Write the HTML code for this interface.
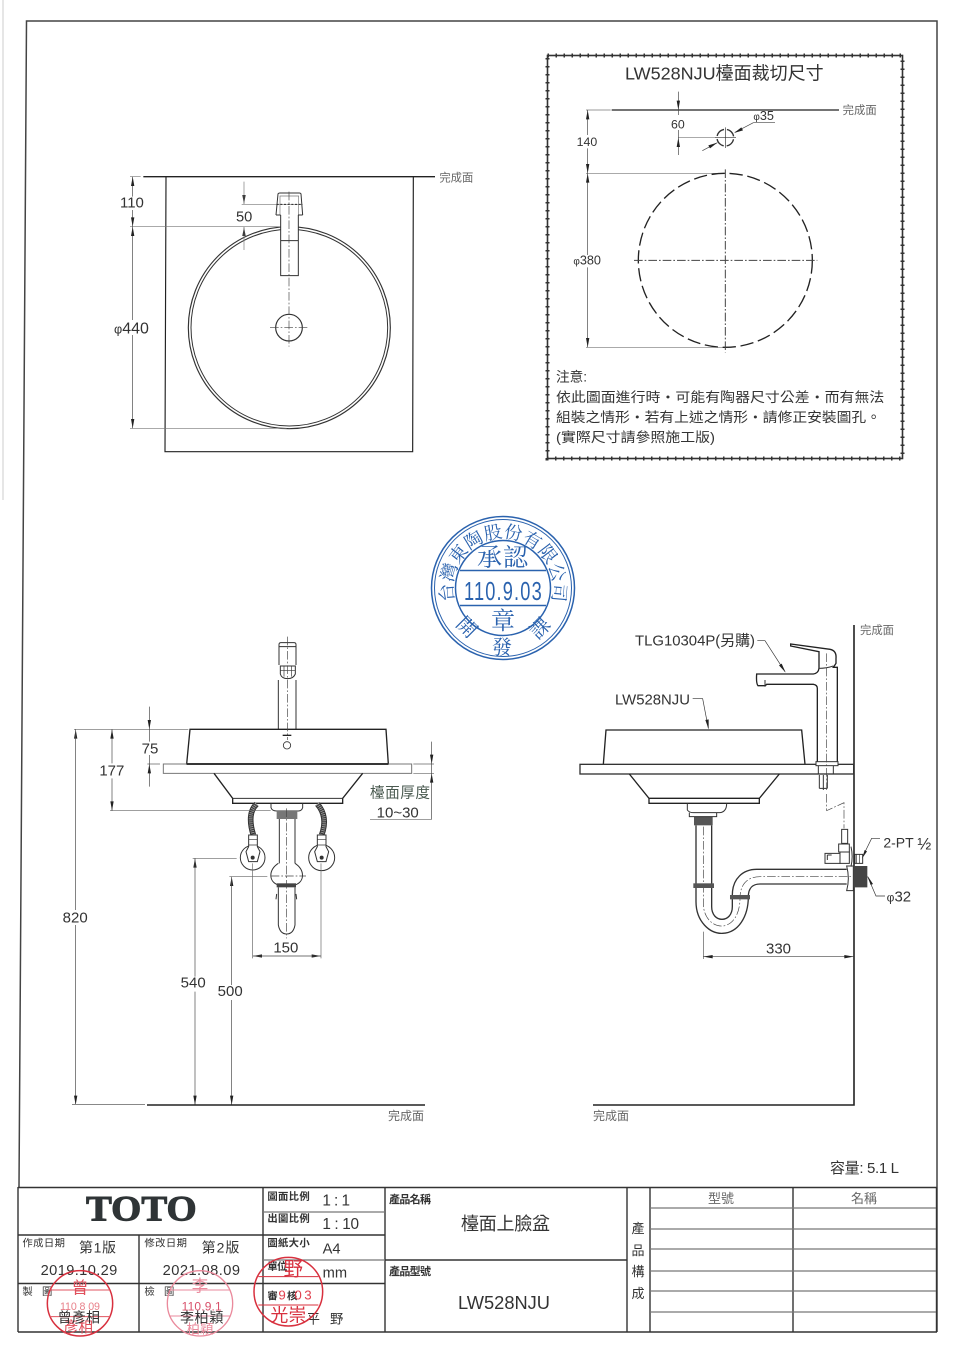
<!DOCTYPE html>
<html><head><meta charset="utf-8"><style>
html,body{margin:0;padding:0;background:#fff}
svg{display:block;filter:blur(.35px)}
text{font-family:"Liberation Sans","Noto Sans CJK TC",sans-serif;fill:#333}
.l{fill:none;stroke:#333;stroke-width:3}
.t{fill:none;stroke:#777;stroke-width:2}
.k{fill:none;stroke:#222;stroke-width:4}
.c{fill:none;stroke:#444;stroke-width:2;stroke-dasharray:26 6 5 6}
.w{fill:#fff;stroke:#333;stroke-width:3}
.g{fill:#666}
.tb{fill:none;stroke:#333;stroke-width:1.4}
.tg{fill:none;stroke:#777;stroke-width:1.2}
.b{font-weight:bold}
.bl{fill:#2a62ae;font-family:"Noto Serif CJK SC",serif}
</style></head><body>
<svg xmlns="http://www.w3.org/2000/svg" width="960" height="1358" viewBox="0 0 960 1358">
<rect width="960" height="1358" fill="#fff"/>
<path d="M3 0V500" stroke="#e6e6e6" stroke-width="2" fill="none"/>

<!-- page frame -->
<path d="M19 1187L26.500 21L937 21V1332" fill="none" stroke="#444" stroke-width="1.500"/>

<!-- plan view -->
<g transform="translate(100,160) scale(.33333)">
<path class="k" d="M130 50H1005"/>
<path class="k" d="M198 50L195 875H938L940 50" style="stroke-width:3.500"/>
<circle cx="568" cy="503" r="303" class="l" style="stroke-width:3.500"/>
<circle cx="568" cy="503" r="295" class="l"/>
<path class="t" d="M90 50H122M90 200H545M90 805H560M425 133H608"/>
<path class="t" d="M98 50V110M98 150V200" style="stroke:#444"/>
<path class="t" d="M98 200V480M98 525V805" style="stroke:#444"/>
<path d="M98 50l-5 28h10zM98 200l-5-28h10zM98 200l-5 28h10zM98 805l-5-28h10zM432 133l-5-28h10zM432 200l-5 28h10z" fill="#222"/>
<path class="t" d="M432 65V133M432 200V270"/>
<rect x="543" y="165" width="52" height="182" fill="#fff"/>
<path class="l" d="M528 165L534 102Q535 99 540 99H598Q602 99 603 102L608 165"/>
<path class="t" d="M540 165V108H596V165"/>
<path class="l" d="M528 165H542M594 165H608M542 165V347H595V165M542 242H595"/>
<circle cx="567" cy="503" r="40" class="l" style="stroke-width:3.500"/>
<path class="c" d="M567 95V560M510 503H622"/>
<path d="M530 133H605" stroke="#222" stroke-width="3" stroke-dasharray="6 5"/>
<text x="60" y="142" font-size="45">110</text>
<text x="408" y="185" font-size="44">50</text>
<text x="42" y="520" font-size="48"><tspan font-size="38">φ</tspan>440</text>
<text x="1018" y="64" font-size="34" class="g">完成面</text>
</g>

<!-- cut-out box -->
<rect x="547.500" y="55.500" width="355" height="403" fill="none" stroke="#333" stroke-width="1.600"/>
<rect x="547.500" y="55.500" width="355" height="403" fill="none" stroke="#333" stroke-width="4" stroke-dasharray="1.500 6.500"/>
<g transform="translate(540,40) scale(.33333)">
<text x="255" y="118" font-size="54" textLength="596" lengthAdjust="spacingAndGlyphs">LW528NJU檯面裁切尺寸</text>
<path class="k" d="M215 210H897"/>
<text x="908" y="222" font-size="34" class="g">完成面</text>
<path class="t" d="M138 210H212M138 400H556M138 922H556M415 293H530"/>
<path class="t" d="M143 210V285M143 325V400M143 400V645M143 682V922M415 155V225M415 270V345" style="stroke:#444"/>
<path d="M143 210l-5 28h10zM143 400l-5-28h10zM143 400l-5 28h10zM143 922l-5-28h10zM415 210l-5-28h10zM415 293l-5 28h10z" fill="#222"/>
<text x="393" y="265" font-size="37">60</text>
<text x="110" y="318" font-size="37">140</text>
<text x="100" y="673" font-size="38"><tspan font-size="30">φ</tspan>380</text>
<text x="640" y="240" font-size="38"><tspan font-size="30">φ</tspan>35</text>
<path class="t" d="M640 248H705M640 248L585 277M487 332L532 308" style="stroke:#444"/>
<path d="M582 279l22-17 5 9zM532 308l-22 17-5-9z" fill="#222"/>
<circle cx="556" cy="293" r="25" class="l" stroke-dasharray="30 9" style="stroke-width:4;stroke-dashoffset:-5"/>
<path class="t" d="M556 262V324M525 293H588" style="stroke:#333"/>
<circle cx="556" cy="661" r="261" class="k" stroke-dasharray="40 14"/>
<path class="c" d="M556 388V937M282 661H832" style="stroke-width:3"/>
<text x="48" y="1025" font-size="41">注意:</text>
<text x="48" y="1086" font-size="41" textLength="985" lengthAdjust="spacingAndGlyphs">依此圖面進行時・可能有陶器尺寸公差・而有無法</text>
<text x="48" y="1146" font-size="41" textLength="975" lengthAdjust="spacingAndGlyphs">組裝之情形・若有上述之情形・請修正安裝圖孔。</text>
<text x="48" y="1206" font-size="41" textLength="477" lengthAdjust="spacingAndGlyphs">(實際尺寸請參照施工版)</text>
</g>

<!-- blue stamp -->
<g fill="none" stroke="#2a62ae">
<circle cx="503" cy="588" r="71.500" stroke-width="1.500"/>
<circle cx="503" cy="588" r="68.500" stroke-width="1"/>
<circle cx="503" cy="588" r="47.500" stroke-width="1.500"/>
<path d="M460 570.500H546M460 605.500H546" stroke-width="1.500"/>
<path id="sa" d="M454.700 601A50 50 0 1 1 551.300 601" stroke="none"/>
</g>
<text font-size="18" class="bl" text-anchor="start"><textPath href="#sa" startOffset="0" textLength="183">台灣東陶股份有限公司</textPath></text>
<text x="503" y="566" font-size="25" class="bl" text-anchor="middle" letter-spacing="1">承認</text>
<text transform="translate(464,600) scale(.7,1)" font-size="26" style="fill:#2a62ae" textLength="111" lengthAdjust="spacing">110.9.03</text>
<text x="503" y="629" font-size="24" class="bl" text-anchor="middle">章</text>
<text x="502" y="654" font-size="20" class="bl" text-anchor="middle">發</text>
<text transform="translate(462,632) rotate(45)" font-size="20" class="bl" text-anchor="middle">開</text>
<text transform="translate(545,633) rotate(-45)" font-size="20" class="bl" text-anchor="middle">課</text>

<!-- front view -->
<g transform="translate(60,630) scale(.33333)">
<path class="l" d="M657 105V44Q657 38 663 38H702Q708 38 708 44V105"/>
<path class="l" d="M657 50H708"/>
<path class="l" d="M661 108H706V132Q700 146 683 146Q665 146 661 132Z"/>
<path class="l" d="M661 122H706M672 108V140M695 108V140" style="stroke-width:2"/>
<path class="l" d="M655 150V298M708 150V298"/>
<path class="k" d="M390 298H978L985 402H380Z"/>
<path class="t" d="M310 402H1055V430H310Z" style="stroke-width:3"/>
<path class="k" d="M380 402H985" style="stroke-width:5"/>
<path class="k" d="M462 430L518 505V520H848V505L908 430"/>
<path class="l" d="M518 505H848"/>
<path class="c" d="M683 20V330"/>
<path d="M668 316H694" stroke="#222" stroke-width="4"/>
<circle cx="681" cy="346" r="11" class="l" style="stroke-width:2.500"/>
<path d="M590 522Q560 550 580 615" fill="none" stroke="#333" stroke-width="17"/>
<path d="M590 522Q560 550 580 615" fill="none" stroke="#999" stroke-width="11" stroke-dasharray="3 3"/>
<path d="M772 522Q805 560 785 615" fill="none" stroke="#333" stroke-width="17"/>
<path d="M772 522Q805 560 785 615" fill="none" stroke="#999" stroke-width="11" stroke-dasharray="3 3"/>
<circle cx="578" cy="683" r="37" class="w"/>
<circle cx="785" cy="683" r="39" class="w"/>
<path class="w" d="M566 615H592V650L600 665L592 695H566L558 665L566 650Z"/>
<path class="w" d="M772 615H798V650L806 665L798 695H772L764 665L772 650Z"/>
<path class="l" d="M566 628H592M772 628H798M566 645H592M772 645H798" style="stroke-width:2"/>
<circle cx="578" cy="683" r="6" fill="#333"/><circle cx="785" cy="683" r="6" fill="#333"/>
<path class="l" d="M633 520V533Q636 543 650 543H715Q725 543 728 533V520"/>
<rect x="650" y="543" width="62" height="24" fill="#777"/>
<path class="l" d="M658 567V700M705 567V700"/>
<path class="l" d="M655 700C625 720 625 755 655 765M705 700C735 720 735 755 705 765"/>
<rect x="650" y="760" width="58" height="12" fill="#444"/>
<path class="l" d="M655 772V885Q660 912 680 912Q700 912 705 885V772"/>
<path class="l" d="M650 792L648 808M708 792L710 808"/>
<path class="c" d="M680 535V925M632 738H738"/>
<!-- dims -->
<path class="t" d="M42 298H385M150 542H632M262 402H300M1060 402H1122M1060 430H1122M398 685H530M508 740H622M930 568H1115M578 700V985M783 700V985" style="stroke:#666"/>
<path class="l" d="M156 298V400M156 445V542M268 230V335M268 375V470M1115 335V568" style="stroke-width:2;stroke:#444"/>
<path d="M268 298l-5-28h10zM268 402l-5 28h10zM156 298l-5 28h10zM156 542l-5-28h10zM1115 402l-5-28h10zM1115 430l-5 28h10zM47 298l-5 28h10zM405 685l-5 28h10zM515 740l-5 28h10zM578 978l28-5v10zM783 978l-28-5v10z" fill="#222"/>
<path class="l" d="M47 298V840M47 885V1425M405 685V1040M405 1085V1425M515 740V1065M515 1110V1425" style="stroke-width:2;stroke:#444"/>
<path d="M47 1425l-5-28h10zM405 1425l-5-28h10zM515 1425l-5-28h10z" fill="#222"/>
<path d="M578 978H783" stroke="#444" stroke-width="2"/>
<text x="245" y="370" font-size="45">75</text>
<text x="118" y="437" font-size="45">177</text>
<text x="8" y="877" font-size="45">820</text>
<text x="640" y="968" font-size="45">150</text>
<text x="930" y="503" font-size="44" style="fill:#4a5a50" textLength="180">檯面厚度</text>
<text x="950" y="562" font-size="45">10~30</text>
<text x="362" y="1072" font-size="45">540</text>
<text x="473" y="1098" font-size="45">500</text>
</g>

<path d="M72 1104.500H145" stroke="#888" stroke-width="1"/>
<path d="M147 1105H425" stroke="#222" stroke-width="1.500"/>
<text x="388" y="1120" font-size="12" class="g">完成面</text>
<text x="593" y="1120" font-size="12" class="g">完成面</text>

<!-- side view -->
<path d="M593 1105H854V625" fill="none" stroke="#222" stroke-width="1.600"/>
<g transform="translate(570,620) scale(.33333)">
<text x="870" y="42" font-size="34" class="g">完成面</text>
<text x="195" y="77" font-size="44" textLength="360" lengthAdjust="spacingAndGlyphs">TLG10304P(另購)</text>
<path class="t" d="M562 62H585L645 155" style="stroke:#333"/>
<path d="M647 158l-20-22 8-5z" fill="#222"/>
<text x="135" y="253" font-size="44" textLength="225" lengthAdjust="spacingAndGlyphs">LW528NJU</text>
<path class="t" d="M368 236H398L415 325" style="stroke:#333"/>
<path d="M416 328l-10-28 10-2z" fill="#222"/>
<path class="k" d="M100 433L108 330H695L705 433"/>
<rect x="30" y="433" width="821" height="29" fill="#fff" stroke="#333" stroke-width="4"/>
<path class="k" d="M178 462L237 535V550H568V535L628 462M237 535H568"/>
<path class="l" d="M352 550V570Q358 578 370 578H450Q470 575 470 550"/>
<rect x="372" y="590" width="56" height="26" fill="#555"/>
<path class="l" d="M358 578V590H440V578"/>
<!-- trap -->
<path class="l" d="M378 616V845C378 905 420 942 458 940C505 938 535 890 535 830C535 805 548 792 570 792H830" style="stroke-width:4"/>
<path class="l" d="M425 616V860C425 885 440 898 456 898C472 898 487 885 487 860V825C487 775 520 748 560 748H830" style="stroke-width:4"/>
<path class="c" d="M400 620V850C400 895 430 920 458 918C490 915 510 880 510 835C510 790 535 770 570 770H850"/>
<rect x="370" y="790" width="62" height="14" fill="#555"/>
<rect x="480" y="825" width="60" height="13" fill="#555"/>
<path class="l" d="M830 738Q840 775 830 812H850V738Z"/>
<path d="M850 738H892V802H850Z" fill="#444"/>
<!-- faucet -->
<path class="k" d="M742 425V205Q742 195 730 193H590L586 197H564Q558 190 560 162H730Q745 160 747 145V95L662 78V72L780 88Q800 92 798 115V130L790 142H802V425"/>
<path class="l" d="M747 145Q770 145 790 138"/>
<path class="l" d="M585 180V200"/>
<rect x="738" y="425" width="66" height="12" fill="#fff" stroke="#333" stroke-width="3"/>
<path class="l" d="M745 437V462M790 437V462"/>
<path class="l" d="M748 465V505M760 465V510M772 465V505M748 505H772"/>
<path class="c" d="M770 100V510M770 522V572L822 548V625"/>
<!-- valve -->
<path class="w" d="M815 628H833V670H815Z"/>
<path class="w" d="M806 672H838V696H806Z"/>
<path class="w" d="M765 700H810V730H765Z"/>
<path class="w" d="M810 696H838V730H810Z"/>
<path class="l" d="M772 705H785M772 705V720"/>
<path class="w" d="M855 703H878V730H855Z"/>
<path class="l" d="M860 703V730M868 703V730" style="stroke-width:2"/>
<path class="l" d="M843 680Q850 710 843 740" style="stroke-width:3"/>
<path class="t" d="M878 710L905 655H930M945 828H918L893 770" style="stroke:#333"/>
<path d="M876 716l8-26 7 4zM893 768l16 24-7 3z" fill="#222"/>
<text x="940" y="682" font-size="42">2-PT</text>
<text x="1042" y="688" font-size="50">½</text>
<text x="950" y="845" font-size="45"><tspan font-size="36">φ</tspan>32</text>
<path class="t" d="M400 935V1017" style="stroke:#555"/>
<path d="M400 1010H851" stroke="#444" stroke-width="2"/>
<path d="M400 1010l28-5v10zM851 1010l-28-5v10z" fill="#222"/>
<text x="588" y="1000" font-size="45">330</text>
</g>

<text x="830" y="1173" font-size="15" textLength="69">容量: 5.1 L</text>

<!-- title block -->
<path class="tb" d="M18 1187.500H937M18 1332H937M18 1187V1332M936.500 1187V1332"/>
<path class="tb" d="M263 1187V1332M385 1187V1332M18 1235H385M18 1283.500H385M139 1235V1332M385 1260H627M627 1188V1332M650 1188V1332M793 1188V1332"/>
<path class="tg" d="M263 1212H385M263 1260H385M650 1208H936M650 1229H936M650 1249H936M650 1271H936M650 1291H936M650 1312H936"/>
<text x="389" y="1203" font-size="11" class="b" textLength="42">產品名稱</text>
<text x="389" y="1275" font-size="11" class="b" textLength="42">產品型號</text>
<text x="461" y="1230" font-size="18" textLength="89">檯面上臉盆</text>
<text x="458" y="1309" font-size="18" textLength="92" lengthAdjust="spacingAndGlyphs">LW528NJU</text>
<text x="638" y="1233" text-anchor="middle" font-size="13">產</text>
<text x="638" y="1255" text-anchor="middle" font-size="13">品</text>
<text x="638" y="1276" text-anchor="middle" font-size="13">構</text>
<text x="638" y="1298" text-anchor="middle" font-size="13">成</text>
<text x="721" y="1203" text-anchor="middle" font-size="13" class="g">型號</text>
<text x="864" y="1203" text-anchor="middle" font-size="13" class="g">名稱</text>
<g transform="translate(10,1180) scale(.33333)">
<text x="228" y="122" font-size="108" textLength="332" lengthAdjust="spacingAndGlyphs" style="font-family:'Liberation Serif',serif;font-weight:bold;fill:#2f3436;stroke:#2f3436;stroke-width:3">TOTO</text>
<text x="772" y="60" font-size="31" class="b" textLength="127">圖面比例</text>
<text x="772" y="126" font-size="31" class="b" textLength="127">出圖比例</text>
<text x="772" y="200" font-size="31" class="b" textLength="127">圖紙大小</text>
<text x="772" y="270" font-size="31" class="b" textLength="60">單位</text>
<text x="772" y="358" font-size="31" class="b" textLength="90">審 核</text>
<text x="937" y="77" font-size="46" textLength="83">1 : 1</text>
<text x="937" y="147" font-size="46" textLength="110">1 : 10</text>
<text x="938" y="220" font-size="44">A4</text>
<text x="938" y="293" font-size="44">mm</text>
<text x="890" y="430" font-size="40" textLength="110">平 野</text>
<text x="37" y="200" font-size="31" textLength="128">作成日期</text>
<text x="403" y="200" font-size="31" textLength="128">修改日期</text>
<text x="207" y="218" font-size="42" textLength="111">第1版</text>
<text x="575" y="218" font-size="42" textLength="113">第2版</text>
<text x="92" y="285" font-size="44" textLength="230">2019.10.29</text>
<text x="458" y="285" font-size="44" textLength="232">2021.08.09</text>
<text x="37" y="345" font-size="31" textLength="90">製 圖</text>
<text x="403" y="345" font-size="31" textLength="90">檢 圖</text>
<!-- red stamps -->
<circle cx="210" cy="370" r="98" fill="none" stroke="#d8303e" stroke-width="4.500"/>
<path d="M120 330H300M118 410H302" fill="none" stroke="#e05560" stroke-width="3"/>
<text x="210" y="340" font-size="50" text-anchor="middle" style="fill:#e0505c">曾</text>
<text x="210" y="390" font-size="32" text-anchor="middle" style="fill:#e8808a" textLength="120">110 8 09</text>
<text x="205" y="456" font-size="44" text-anchor="middle" style="fill:#e0505c">彥相</text>
<text x="143" y="428" font-size="42" textLength="127">曾彥相</text>
<circle cx="570" cy="370" r="98" fill="none" stroke="#ea8a9c" stroke-width="4"/>
<path d="M480 330H660M478 408H662" fill="none" stroke="#ea8a9c" stroke-width="3"/>
<text x="570" y="335" font-size="50" text-anchor="middle" style="fill:#ea8a9c">李</text>
<text x="575" y="392" font-size="36" text-anchor="middle" textLength="120" style="fill:#d8506a">110.9.1</text>
<text x="570" y="460" font-size="40" text-anchor="middle" style="fill:#ea8a9c">柏穎</text>
<text x="510" y="428" font-size="42" textLength="130">李柏穎</text>
<circle cx="835" cy="335" r="103" fill="none" stroke="#d8303e" stroke-width="4.500"/>
<path d="M745 290H925M745 375H925" fill="none" stroke="#d8303e" stroke-width="3"/>
<text x="850" y="286" font-size="58" text-anchor="middle" style="fill:#d8303e">野</text>
<text x="855" y="358" font-size="40" text-anchor="middle" textLength="100" style="fill:#e0404e">9 03</text>
<text x="835" y="424" font-size="54" text-anchor="middle" style="fill:#d8303e">光崇</text>
</g>
</svg>
</body></html>
